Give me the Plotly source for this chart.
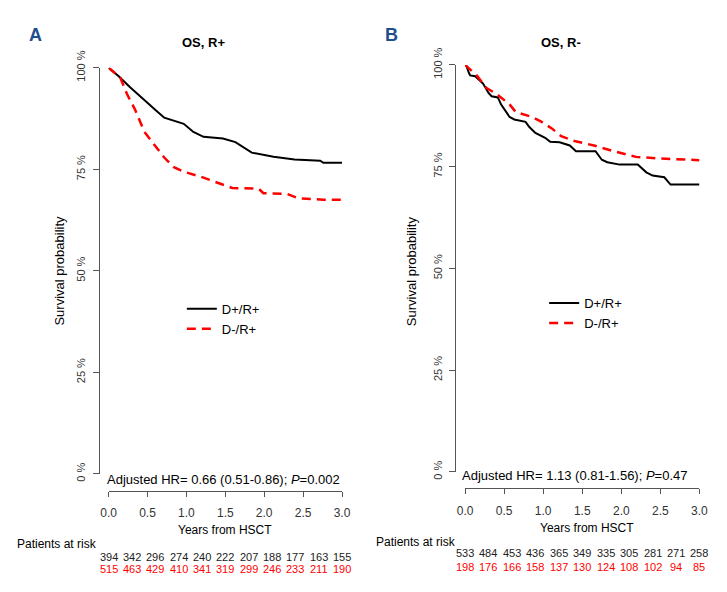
import plotly.graph_objects as go

W, H = 727, 592
FONT = "Liberation Sans, Arial, sans-serif"
RED = "#ff0000"
BLUE = "#1f4e8c"
GREY = "#555555"

# ---------------- data ----------------
a_dpos_t = [0, 0.13, 0.276, 0.40, 0.506, 0.61, 0.715, 0.85, 0.966, 1.09, 1.22, 1.47, 1.63, 1.84, 2.12, 2.39, 2.72, 2.76, 3.0]
a_dpos_s = [100, 97.9, 95.2, 93.0, 91.3, 89.5, 87.7, 86.9, 86.2, 84.2, 83.0, 82.6, 81.7, 79.1, 78.1, 77.4, 77.1, 76.6, 76.6]
a_dneg_t = [0, 0.15, 0.235, 0.34, 0.46, 0.59, 0.715, 0.84, 0.966, 1.18, 1.43, 1.59, 1.93, 1.99, 2.30, 2.43, 2.76, 3.0]
a_dneg_s = [100, 97.6, 93.6, 89.7, 84.2, 81.1, 77.9, 75.5, 74.4, 73.2, 71.6, 70.4, 70.2, 69.1, 68.9, 67.9, 67.5, 67.5]

b_dpos_t = [0, 0.017, 0.05, 0.066, 0.13, 0.23, 0.30, 0.34, 0.42, 0.46, 0.57, 0.63, 0.775, 0.82, 0.9, 1.025, 1.09, 1.21,
            1.34, 1.42, 1.67, 1.75, 1.82, 1.98, 2.21, 2.32, 2.40, 2.55, 2.63, 3.0]
b_dpos_s = [100, 99.8, 98.0, 97.4, 97.2, 95.4, 93.1, 92.3, 92.0, 90.3, 87.2, 86.6, 86.0, 84.8, 83.3, 82.1, 81.1, 81.0,
            80.2, 78.8, 78.8, 76.7, 76.1, 75.5, 75.5, 73.6, 72.8, 72.4, 70.6, 70.6]
b_dneg_t = [0, 0.15, 0.275, 0.40, 0.57, 0.65, 0.86, 0.98, 1.11, 1.23, 1.40, 1.65, 1.90, 2.19, 2.48, 3.0]
b_dneg_s = [100, 97.4, 94.3, 92.9, 90.3, 88.4, 87.2, 86.0, 84.4, 82.5, 81.3, 80.2, 78.8, 77.4, 77.0, 76.6]

risk_times = [0.0, 0.3, 0.6, 0.9, 1.2, 1.5, 1.8, 2.1, 2.4, 2.7, 3.0]
a_risk_dpos = [394, 342, 296, 274, 240, 222, 207, 188, 177, 163, 155]
a_risk_dneg = [515, 463, 429, 410, 341, 319, 299, 246, 233, 211, 190]
b_risk_dpos = [533, 484, 453, 436, 365, 349, 335, 305, 281, 271, 258]
b_risk_dneg = [198, 176, 166, 158, 137, 130, 124, 108, 102, 94, 85]

x_ticks = [0.0, 0.5, 1.0, 1.5, 2.0, 2.5, 3.0]
y_ticks = [0, 25, 50, 75, 100]
y_ticktext = ["0 %", "25 %", "50 %", "75 %", "100 %"]
names = ["D+/R+", "D-/R+"]


def fx(p):
    return p / W


def fy(p):
    return 1 - p / H


fig = go.Figure()

line_black = dict(color="black", width=2)
line_red = dict(color=RED, width=2.5, dash="9px,6px")

fig.add_trace(go.Scatter(x=a_dpos_t, y=a_dpos_s, mode="lines", line=line_black, name=names[0],
                         xaxis="x", yaxis="y", legend="legend"))
fig.add_trace(go.Scatter(x=a_dneg_t, y=a_dneg_s, mode="lines", line=line_red, name=names[1],
                         xaxis="x", yaxis="y", legend="legend"))
fig.add_trace(go.Scatter(x=b_dpos_t, y=b_dpos_s, mode="lines", line=line_black, name=names[0],
                         xaxis="x2", yaxis="y2", legend="legend2"))
fig.add_trace(go.Scatter(x=b_dneg_t, y=b_dneg_s, mode="lines", line=line_red, name=names[1],
                         xaxis="x2", yaxis="y2", legend="legend2"))


def xaxis_cfg(d0, d1, pos):
    return dict(domain=[fx(d0), fx(d1)], range=[0, 3], anchor="free", position=fy(pos),
                tickvals=x_ticks, ticktext=[f"{v:.1f}" for v in x_ticks],
                showline=True, linecolor=GREY, linewidth=1, ticks="outside", ticklen=5,
                tickcolor=GREY, showgrid=False, zeroline=False, ticklabelstandoff=6,
                tickfont=dict(family=FONT, size=12, color="#333"))


def yaxis_cfg(top, bottom, pos):
    return dict(domain=[fy(bottom), fy(top)], range=[0, 100], anchor="free", position=fx(pos),
                tickvals=y_ticks, ticktext=y_ticktext, tickangle=-90,
                showline=True, linecolor=GREY, linewidth=1, ticks="outside", ticklen=6,
                tickcolor=GREY, showgrid=False, zeroline=False, ticklabelstandoff=3,
                tickfont=dict(family=FONT, size=11, color="#333"))


ann = []


def text(x, y, s, size=12, color="black", xanchor="center", bold=False, angle=0, xref="paper"):
    ann.append(dict(x=x if xref != "paper" else fx(x), y=fy(y), xref=xref, yref="paper",
                    text=f"<b>{s}</b>" if bold else s, showarrow=False, xanchor=xanchor,
                    yanchor="middle", textangle=angle,
                    font=dict(family=FONT, size=size, color=color)))


# Panel A
text(28, 19, "A", size=18, color=BLUE, bold=True)
text(200, 27, "OS, R+", size=13, bold=True)
text(53, 265, "Survival probability", size=13, angle=-90)
text(342, 483, "Adjusted HR= 0.66 (0.51-0.86); <i>P</i>=0.002", size=13, xanchor="right")
text(222, 536, "Years from HSCT", size=12)
text(7, 550, "Patients at risk", size=12, xanchor="left")
for t, v in zip(risk_times, a_risk_dpos):
    text(t, 564, str(v), size=11, color="#222", xref="x")
for t, v in zip(risk_times, a_risk_dneg):
    text(t, 576, str(v), size=11, color=RED, xref="x")

# Panel B
text(393, 19, "B", size=18, color=BLUE, bold=True)
text(566, 27, "OS, R-", size=13, bold=True)
text(413, 265, "Survival probability", size=13, angle=-90)
text(698, 479, "Adjusted HR= 1.13 (0.81-1.56); <i>P</i>=0.47", size=13, xanchor="right")
text(593, 534, "Years from HSCT", size=12)
text(375, 548, "Patients at risk", size=12, xanchor="left")
for t, v in zip(risk_times, b_risk_dpos):
    text(t, 560, str(v), size=11, color="#222", xref="x2")
for t, v in zip(risk_times, b_risk_dneg):
    text(t, 574, str(v), size=11, color=RED, xref="x2")

legend_common = dict(bgcolor="rgba(0,0,0,0)", borderwidth=0, font=dict(family=FONT, size=13, color="black"),
                     xanchor="left", yanchor="top", itemwidth=30, tracegroupgap=0)

fig.update_layout(
    width=W, height=H, autosize=False,
    margin=dict(l=0, r=0, t=0, b=0),
    paper_bgcolor="white", plot_bgcolor="white",
    xaxis=xaxis_cfg(103, 342, 495),
    yaxis=yaxis_cfg(53, 477, 93),
    xaxis2=xaxis_cfg(468, 708, 492),
    yaxis2=yaxis_cfg(50, 475, 458),
    legend=dict(x=fx(178), y=fy(289), **legend_common),
    legend2=dict(x=fx(549), y=fy(283), **legend_common),
    annotations=ann,
    showlegend=True,
)

fig.write_html("out.html", config={"displayModeBar": False},
               post_script="document.body.style.margin='0';document.body.style.padding='0';"
                           "document.body.style.overflow='hidden';")
